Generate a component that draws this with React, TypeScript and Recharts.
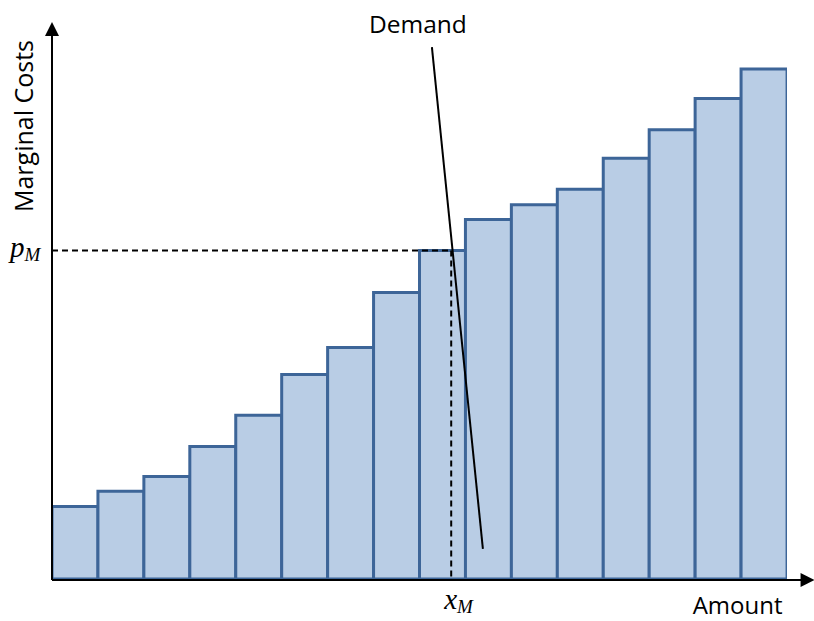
import React from 'react';
import { BarChart, Bar, XAxis, YAxis, ReferenceLine } from 'recharts';

// merit-order bars (marginal cost of each block), tallest = 100
const blockPos = [0.5, 1.5, 2.5, 3.5, 4.5, 5.5, 6.5, 7.5, 8.5, 9.5, 10.5, 11.5, 12.5, 13.5, 14.5, 15.5];
const marginalCost = [14.2, 17.2, 20.1, 26.0, 32.1, 40.1, 45.4, 56.2, 64.4, 70.5, 73.4, 76.4, 82.5, 88.1, 94.2, 100];

// market clearing point
const xM = 8.69;
const pM = 64.4;

// demand curve (amount, cost)
const demandAmount = [8.27, 9.38];
const demandCost = [104.3, 5.9];

// axis arrow extents
const xAxisEnd = [0, 16.6];
const yAxisEnd = [-0.2, 109.2];

const FILL = '#b9cde5';
const EDGE = '#3d6598';
const FONT = '"Open Sans", sans-serif';
const MATH = '"Liberation Serif", serif';

const data = blockPos.map((x, i) => ({ pos: x, cost: marginalCost[i] }));

const XArrow = (p: any) => (
  <g>
    <line x1={p.x1} y1={p.y1} x2={p.x2 - 10} y2={p.y2} stroke="#000" strokeWidth={2} />
    <polygon points={`${p.x2},${p.y2} ${p.x2 - 14},${p.y2 - 7} ${p.x2 - 14},${p.y2 + 7}`} fill="#000" />
    <text x={p.x2 - 77} y={p.y2 + 34} textAnchor="middle" fontFamily={FONT} fontSize={24} fill="#000">Amount</text>
  </g>
);

const YArrow = (p: any) => {
  const top = Math.min(p.y1, p.y2);
  const bot = Math.max(p.y1, p.y2);
  return (
    <g>
      <line x1={p.x1} y1={bot} x2={p.x1} y2={top + 10} stroke="#000" strokeWidth={2} />
      <polygon points={`${p.x1},${top} ${p.x1 - 7},${top + 14} ${p.x1 + 7},${top + 14}`} fill="#000" />
      <text
        transform={`translate(${p.x1 - 19},126) rotate(-90)`}
        textAnchor="middle"
        fontFamily={FONT}
        fontSize={25}
        fill="#000"
      >
        Marginal Costs
      </text>
    </g>
  );
};

const PriceLine = (p: any) => (
  <g>
    <line x1={p.x1} y1={p.y1} x2={p.x2} y2={p.y2} stroke="#000" strokeWidth={2} strokeDasharray="6 4" />
    <text x={Math.min(p.x1, p.x2) - 42} y={p.y1 + 6} fontFamily={MATH} fontStyle="italic" fill="#000">
      <tspan fontSize={29}>p</tspan>
      <tspan fontSize={19} dy={4}>M</tspan>
    </text>
  </g>
);

const AmountLine = (p: any) => (
  <g>
    <line x1={p.x1} y1={p.y1} x2={p.x2} y2={p.y2} stroke="#000" strokeWidth={2} strokeDasharray="6 4" />
    <text x={p.x1 - 7} y={Math.max(p.y1, p.y2) + 30} fontFamily={MATH} fontStyle="italic" fill="#000">
      <tspan fontSize={29}>x</tspan>
      <tspan fontSize={19} dy={4}>M</tspan>
    </text>
  </g>
);

const DemandLine = (p: any) => {
  const topX = p.y1 < p.y2 ? p.x1 : p.x2;
  const topY = Math.min(p.y1, p.y2);
  return (
    <g>
      <line x1={p.x1} y1={p.y1} x2={p.x2} y2={p.y2} stroke="#000" strokeWidth={2} />
      <text x={topX - 14} y={topY - 14} textAnchor="middle" fontFamily={FONT} fontSize={24.5} fill="#000">Demand</text>
    </g>
  );
};

export default function App() {
  return (
    <div style={{ position: 'absolute', left: 0, top: 0, width: 814, height: 621, background: '#fff' }}>
      <BarChart
        width={814}
        height={621}
        data={data}
        margin={{ top: 18, right: 27, bottom: 42, left: 52 }}
        barCategoryGap={0}
        style={{ overflow: 'visible' }}
      >
        <XAxis dataKey="pos" type="number" domain={[0, 16]} allowDataOverflow hide />
        <YAxis type="number" domain={[0, 110]} allowDataOverflow hide />
        <Bar dataKey="cost" fill={FILL} stroke={EDGE} strokeWidth={3} isAnimationActive={false} />
        <ReferenceLine
          ifOverflow="visible"
          segment={[{ x: 0, y: pM }, { x: xM, y: pM }]}
          shape={PriceLine}
        />
        <ReferenceLine
          ifOverflow="visible"
          segment={[{ x: xM, y: pM }, { x: xM, y: 0 }]}
          shape={AmountLine}
        />
        <ReferenceLine
          ifOverflow="visible"
          segment={[{ x: demandAmount[0], y: demandCost[0] }, { x: demandAmount[1], y: demandCost[1] }]}
          shape={DemandLine}
        />
        <ReferenceLine
          ifOverflow="visible"
          segment={[{ x: xAxisEnd[0], y: yAxisEnd[0] }, { x: xAxisEnd[1], y: yAxisEnd[0] }]}
          shape={XArrow}
        />
        <ReferenceLine
          ifOverflow="visible"
          segment={[{ x: xAxisEnd[0], y: yAxisEnd[0] }, { x: xAxisEnd[0], y: yAxisEnd[1] }]}
          shape={YArrow}
        />
      </BarChart>
    </div>
  );
}
